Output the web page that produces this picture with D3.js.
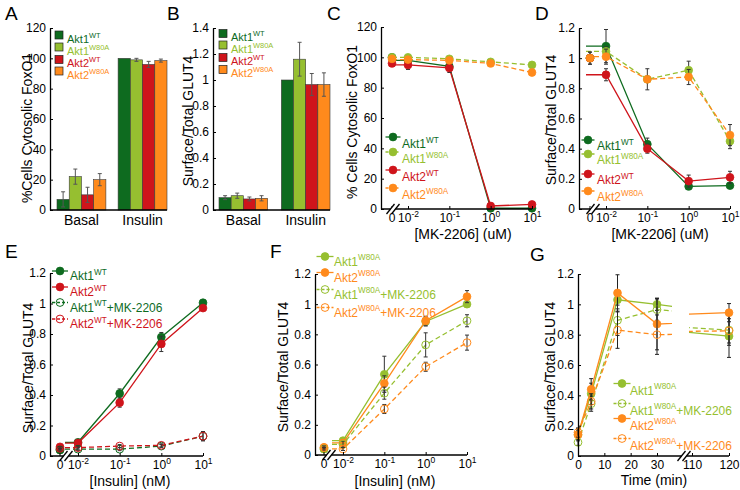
<!DOCTYPE html>
<html><head><meta charset="utf-8">
<script src="https://cdn.jsdelivr.net/npm/d3@7"></script>
<style>body{margin:0;background:#fff}svg{display:block}</style>
</head><body>
<svg id="fig" width="740" height="490"></svg>
<script>
// ================= DATA =================
const barCategories = ["Basal", "Insulin"];
const legendBase = ["Akt1", "Akt1", "Akt2", "Akt2"];
const legendSup = ["WT", "W80A", "WT", "W80A"];

// Panel A: % cells cytosolic FoxO1
const foxoBasal = [7, 22, 10, 20];
const foxoBasalErr = [5, 5, 5, 4];
const foxoInsulin = [100, 99, 96, 98.5];
const foxoInsulinErr = [0, 1, 2, 1];
// Panel B: surface/total GLUT4
const glutBasal = [0.095, 0.11, 0.085, 0.09];
const glutBasalErr = [0.015, 0.02, 0.015, 0.02];
const glutInsulin = [1.0, 1.16, 0.965, 0.965];
const glutInsulinErr = [0, 0.13, 0.085, 0.09];

// Panels C, D: MK-2206 dose (uM); 0 shown left of the axis break
const mkDoses = [0, 0.01, 0.1, 1, 10];
const cAkt1WT = [100, 98, 94, 0.5, 0.5];
const cAkt1WTErr = [1, 1, 1, 0.5, 0.5];
const cAkt1W80A = [100, 100, 99, 97, 95];
const cAkt1W80AErr = [1, 1, 1, 1, 1];
const cAkt2WT = [96, 95, 93, 2, 3];
const cAkt2WTErr = [1, 3, 3, 1, 1];
const cAkt2W80A = [99, 98.5, 98, 96, 90];
const cAkt2W80AErr = [1, 1, 1, 1, 1];

const dAkt1WT = [1.0, 1.08, 0.43, 0.15, 0.155];
const dAkt1WTErr = [0, 0.11, 0.04, 0.01, 0.01];
const dAkt1W80A = [1.0, 1.045, 0.86, 0.92, 0.45];
const dAkt1W80AErr = [0, 0.03, 0.02, 0.06, 0.05];
const dAkt2WT = [1.0, 0.89, 0.40, 0.185, 0.21];
const dAkt2WTErr = [0.04, 0.04, 0.03, 0.04, 0.04];
const dAkt2W80A = [1.0, 1.01, 0.86, 0.875, 0.49];
const dAkt2W80AErr = [0.04, 0.05, 0.07, 0.05, 0.07];

// Panels E, F: insulin dose (nM)
const insDoses = [0, 0.01, 0.1, 1, 10];
const eAkt1WT = [0.04, 0.09, 0.41, 0.78, 1.005];
const eAkt1WTErr = [0.01, 0.01, 0.03, 0.03, 0.01];
const eAkt2WT = [0.06, 0.085, 0.35, 0.735, 0.97];
const eAkt2WTErr = [0.01, 0.01, 0.03, 0.05, 0.01];
const eAkt1WTMK = [0.04, 0.045, 0.045, 0.065, 0.13];
const eAkt1WTMKErr = [0.01, 0.01, 0.01, 0.01, 0.03];
const eAkt2WTMK = [0.05, 0.055, 0.065, 0.07, 0.13];
const eAkt2WTMKErr = [0.01, 0.01, 0.01, 0.01, 0.03];

const fAkt1W80A = [0.04, 0.095, 0.535, 0.885, 1.0];
const fAkt1W80AErr = [0.01, 0.02, 0.12, 0.03, 0.02];
const fAkt2W80A = [0.05, 0.08, 0.475, 0.89, 1.05];
const fAkt2W80AErr = [0.01, 0.02, 0.05, 0.03, 0.04];
const fAkt1W80AMK = [0.04, 0.07, 0.41, 0.73, 0.89];
const fAkt1W80AMKErr = [0.01, 0.02, 0.04, 0.08, 0.04];
const fAkt2W80AMK = [0.05, 0.04, 0.305, 0.585, 0.745];
const fAkt2W80AMKErr = [0.01, 0.01, 0.03, 0.03, 0.05];

// Panel G: time course (min)
const timePts = [0, 5, 15, 30, 120];
const gAkt1W80A = [0.14, 0.41, 1.03, 1.0, 0.79];
const gAkt1W80AErr = [0.03, 0.07, 0.06, 0.04, 0.14];
const gAkt1W80AMK = [0.09, 0.345, 0.895, 0.965, 0.83];
const gAkt1W80AMKErr = [0.02, 0.05, 0.1, 0.07, 0.1];
const gAkt2W80A = [0.14, 0.44, 1.075, 0.87, 0.945];
const gAkt2W80AErr = [0.04, 0.07, 0.12, 0.17, 0.06];
const gAkt2W80AMK = [0.155, 0.36, 0.83, 0.80, 0.825];
const gAkt2W80AMKErr = [0.03, 0.05, 0.12, 0.13, 0.08];

// Tick labels
const pctTicks = [0, 20, 40, 60, 80, 100, 120];
const glut14Ticks = [0, 0.2, 0.4, 0.6, 0.8, 1, 1.2, 1.4];
const glut12Ticks = [0, 0.2, 0.4, 0.6, 0.8, 1, 1.2];
const logTicks = [0.01, 0.1, 1, 10];
const logTickExp = ["-2", "-1", "0", "1"];
const timeTicksA = [0, 10, 20, 30];
const timeTicksB = [110, 120];

// ================= STYLE =================
const FONT = "'Liberation Sans', Arial, Helvetica, sans-serif";
const COL = {a1wt: "#0e6b1f", a1w: "#96bf30", a2wt: "#cf141b", a2w: "#ff8a1c"};
const barColors = [COL.a1wt, COL.a1w, COL.a2wt, COL.a2w];
const DASH = "5,3";
const R = 3.9;
const TPAD = 4;

const svg = d3.select("#fig").attr("font-family", FONT);

function panelLetter(t, x, y) {
  svg.append("text").attr("x", x).attr("y", y).attr("font-size", 19).text(t);
}
function richText(g, x, y, base, sup, rest, color, fs) {
  const t = g.append("text").attr("x", x).attr("y", y).attr("font-size", fs).attr("fill", color);
  t.append("tspan").text(base);
  t.append("tspan").attr("font-size", fs * 0.68).attr("dy", -fs * 0.45).text(sup);
  if (rest) t.append("tspan").attr("font-size", fs).attr("dy", fs * 0.45).text(rest);
}
function yTitle(x, y, txt) {
  svg.append("text").attr("transform", `translate(${x},${y}) rotate(-90)`)
    .attr("text-anchor", "middle").attr("dy", "0.35em").attr("font-size", 14).text(txt);
}
function xTitle(x, y, txt) {
  svg.append("text").attr("x", x).attr("y", y).attr("text-anchor", "middle").attr("font-size", 14).text(txt);
}
function yAxis(g, y, x0, ticks) {
  const ax = g.append("g").attr("transform", `translate(${x0},0)`)
    .call(d3.axisLeft(y).tickValues(ticks).tickFormat(d => String(d))
      .tickSizeInner(-3).tickSizeOuter(0).tickPadding(4));
  ax.attr("font-family", FONT).attr("font-size", 12);
  ax.select(".domain").attr("stroke-width", 1.3);
}
function hLine(g, x1, x2, yy) {
  g.append("line").attr("x1", x1).attr("x2", x2).attr("y1", yy).attr("y2", yy)
    .attr("stroke", "#000").attr("stroke-width", 1.3);
}
function drawBreak(g, bx, yy) {
  g.append("rect").attr("x", bx - 2.5).attr("y", yy - 2).attr("width", 5).attr("height", 4).attr("fill", "#fff");
  [-2.5, 2.5].forEach(o => {
    g.append("line").attr("x1", bx + o - 4).attr("y1", yy + 5).attr("x2", bx + o + 4).attr("y2", yy - 5)
      .attr("stroke", "#000").attr("stroke-width", 1.3);
  });
}
function errorBar(g, x, y, v, e, color) {
  if (!e) return;
  const c = color || "#333";
  g.append("line").attr("x1", x).attr("x2", x).attr("y1", y(v - e)).attr("y2", y(v + e))
    .attr("stroke", c).attr("stroke-width", 1);
  [v - e, v + e].forEach(w => g.append("line").attr("x1", x - 2).attr("x2", x + 2)
    .attr("y1", y(w)).attr("y2", y(w)).attr("stroke", c).attr("stroke-width", 1));
}
function marker(g, x, yy, color, filled) {
  g.append("circle").attr("cx", x).attr("cy", yy).attr("r", R)
    .attr("fill", filled ? color : "none").attr("stroke", color).attr("stroke-width", filled ? 0.8 : 1);
}
function lineLegend(g, mx, my, L, tx, off, fs, s, base, sup, rest) {
  g.append("line").attr("x1", mx - L).attr("x2", mx + L).attr("y1", my).attr("y2", my)
    .attr("stroke", s.color).attr("stroke-width", 1.3).attr("stroke-dasharray", s.dash ? "3,2" : null);
  marker(g, mx, my, s.color, s.filled);
  richText(g, tx, my + off, base, sup, rest, s.color, fs);
}

// ================= BAR PANELS =================
function barPanel(cfg) {
  const g = svg.append("g");
  const y = d3.scaleLinear().domain([0, cfg.ymax]).range([cfg.y0, cfg.ytop]);
  const xb = d3.scaleBand().domain(barCategories).range(cfg.band).paddingInner(cfg.pad);
  const xs = d3.scaleBand().domain(d3.range(4)).range([0, xb.bandwidth()]);
  const groups = [{cat: "Basal", v: cfg.basal, e: cfg.basalErr}, {cat: "Insulin", v: cfg.ins, e: cfg.insErr}];
  groups.forEach(gr => gr.v.forEach((v, i) => {
    g.append("rect").attr("x", xb(gr.cat) + xs(i)).attr("y", y(v))
      .attr("width", xs.bandwidth()).attr("height", y(0) - y(v))
      .attr("fill", barColors[i]).attr("stroke", "#3a3a3a").attr("stroke-width", 0.6);
  }));
  groups.forEach(gr => gr.v.forEach((v, i) => {
    errorBar(g, xb(gr.cat) + xs(i) + xs.bandwidth() / 2, y, v, gr.e[i], "#555");
  }));
  const ax = g.append("g").attr("transform", `translate(0,${cfg.y0})`)
    .call(d3.axisBottom(xb).tickSize(0).tickPadding(5));
  ax.select(".domain").remove();
  ax.attr("font-family", FONT).attr("font-size", 14);
  hLine(g, cfg.left, cfg.right, cfg.y0);
  yAxis(g, y, cfg.left, cfg.ticks);
  legendBase.forEach((b, i) => {
    const ly = cfg.legY[i];
    g.append("rect").attr("x", cfg.legX - 4).attr("y", ly - 4).attr("width", 8).attr("height", 8)
      .attr("fill", barColors[i]).attr("stroke", "#222").attr("stroke-width", 0.7);
    richText(g, cfg.legX + 8, ly + 7.5, b, legendSup[i], "", barColors[i], 11);
  });
}

barPanel({left: 50, right: 167, y0: 210, ytop: 28, ymax: 120, band: [57, 167], pad: 0.2,
  basal: foxoBasal, basalErr: foxoBasalErr, ins: foxoInsulin, insErr: foxoInsulinErr,
  ticks: pctTicks, legX: 59, legY: [35, 47, 59.5, 71]});
barPanel({left: 213, right: 330, y0: 210, ytop: 28, ymax: 1.4, band: [219, 330], pad: 0.22,
  basal: glutBasal, basalErr: glutBasalErr, ins: glutInsulin, insErr: glutInsulinErr,
  ticks: glut14Ticks, legX: 223, legY: [33.5, 45, 57.5, 69.5]});

// ================= LOG-DOSE PANELS =================
function logPanel(cfg) {
  const g = svg.append("g");
  const y = d3.scaleLinear().domain([0, cfg.ymax]).range([cfg.y0, cfg.ytop]);
  const xl = d3.scaleLog().domain([0.01, 10]).range([cfg.xMin, cfg.right]);
  const xp = d => d === 0 ? cfg.zeroX : xl(d);
  cfg.series.forEach(s => {
    const pts = cfg.doses.map((d, i) => ({x: xp(d), v: s.vals[i], e: s.err[i]}));
    const ld = [{x: cfg.stubX, v: s.vals[1]}].concat(pts.slice(1));
    g.append("path").datum(ld).attr("fill", "none").attr("stroke", s.color).attr("stroke-width", 1.3)
      .attr("stroke-dasharray", s.dash ? DASH : null)
      .attr("d", d3.line().x(p => p.x).y(p => y(p.v)));
    pts.forEach(p => errorBar(g, p.x, y, p.v, p.e));
    pts.forEach(p => marker(g, p.x, y(p.v), s.color, s.filled));
  });
  hLine(g, cfg.left, cfg.right, cfg.y0);
  const ax = g.append("g").attr("transform", `translate(0,${cfg.y0})`)
    .call(d3.axisBottom(xl).tickValues(logTicks).tickFormat(() => "10")
      .tickSizeInner(-3).tickSizeOuter(0).tickPadding(TPAD));
  ax.select(".domain").remove();
  ax.attr("font-family", FONT).attr("font-size", 12);
  ax.selectAll(".tick text").each(function (d, i) {
    d3.select(this).append("tspan").attr("font-size", 8.5).attr("dy", -5).text(logTickExp[i]);
  });
  g.append("line").attr("x1", cfg.zeroX).attr("x2", cfg.zeroX).attr("y1", cfg.y0).attr("y2", cfg.y0 - 3)
    .attr("stroke", "#000");
  g.append("text").attr("x", cfg.zeroX).attr("y", cfg.y0 + TPAD).attr("dy", "0.71em")
    .attr("text-anchor", "middle").attr("font-size", 12).text("0");
  drawBreak(g, cfg.breakX, cfg.y0);
  yAxis(g, y, cfg.left, cfg.ticks);
  cfg.series.forEach((s, i) => {
    lineLegend(g, cfg.legX, cfg.legY[i], cfg.legL, cfg.legTX, cfg.legOff, cfg.legFS, s,
      cfg.legBase[i], cfg.legSup[i], cfg.legRest[i]);
  });
}

logPanel({left: 381, right: 532, y0: 209, ytop: 27, ymax: 120, xMin: 408, zeroX: 392, breakX: 393, stubX: 392,
  doses: mkDoses, ticks: pctTicks,
  series: [
    {vals: cAkt1WT, err: cAkt1WTErr, color: COL.a1wt, dash: false, filled: true},
    {vals: cAkt1W80A, err: cAkt1W80AErr, color: COL.a1w, dash: true, filled: true},
    {vals: cAkt2WT, err: cAkt2WTErr, color: COL.a2wt, dash: false, filled: true},
    {vals: cAkt2W80A, err: cAkt2W80AErr, color: COL.a2w, dash: true, filled: true}],
  legX: 393, legY: [137, 152, 170, 188], legL: 7.5, legTX: 402, legOff: 11, legFS: 12,
  legBase: legendBase, legSup: legendSup, legRest: ["", "", "", ""]});

logPanel({left: 579, right: 730, y0: 209, ytop: 28, ymax: 1.2, xMin: 606, zeroX: 590, breakX: 593, stubX: 586,
  doses: mkDoses, ticks: glut12Ticks,
  series: [
    {vals: dAkt1WT, err: dAkt1WTErr, color: COL.a1wt, dash: false, filled: true},
    {vals: dAkt1W80A, err: dAkt1W80AErr, color: COL.a1w, dash: true, filled: true},
    {vals: dAkt2WT, err: dAkt2WTErr, color: COL.a2wt, dash: false, filled: true},
    {vals: dAkt2W80A, err: dAkt2W80AErr, color: COL.a2w, dash: true, filled: true}],
  legX: 588, legY: [140, 154, 174, 191], legL: 6.5, legTX: 597, legOff: 10, legFS: 12,
  legBase: legendBase, legSup: legendSup, legRest: ["", "", "", ""]});

logPanel({left: 50, right: 203, y0: 456, ytop: 273, ymax: 1.2, xMin: 78, zeroX: 60, breakX: 66, stubX: 65,
  doses: insDoses, ticks: glut12Ticks,
  series: [
    {vals: eAkt1WT, err: eAkt1WTErr, color: COL.a1wt, dash: false, filled: true},
    {vals: eAkt2WT, err: eAkt2WTErr, color: COL.a2wt, dash: false, filled: true},
    {vals: eAkt1WTMK, err: eAkt1WTMKErr, color: COL.a1wt, dash: true, filled: false},
    {vals: eAkt2WTMK, err: eAkt2WTMKErr, color: COL.a2wt, dash: true, filled: false}],
  legX: 60, legY: [271, 287, 302.5, 319], legL: 8, legTX: 70, legOff: 9, legFS: 12,
  legBase: ["Akt1", "Akt2", "Akt1", "Akt2"], legSup: ["WT", "WT", "WT", "WT"],
  legRest: ["", "", "+MK-2206", "+MK-2206"]});

logPanel({left: 315, right: 467, y0: 455, ytop: 274, ymax: 1.2, xMin: 343, zeroX: 324, breakX: 329, stubX: 332,
  doses: insDoses, ticks: glut12Ticks,
  series: [
    {vals: fAkt1W80A, err: fAkt1W80AErr, color: COL.a1w, dash: false, filled: true},
    {vals: fAkt2W80A, err: fAkt2W80AErr, color: COL.a2w, dash: false, filled: true},
    {vals: fAkt1W80AMK, err: fAkt1W80AMKErr, color: COL.a1w, dash: true, filled: false},
    {vals: fAkt2W80AMK, err: fAkt2W80AMKErr, color: COL.a2w, dash: true, filled: false}],
  legX: 325, legY: [256.5, 272.5, 289.5, 307.5], legL: 8.5, legTX: 334, legOff: 9, legFS: 12,
  legBase: ["Akt1", "Akt2", "Akt1", "Akt2"], legSup: ["W80A", "W80A", "W80A", "W80A"],
  legRest: ["", "", "+MK-2206", "+MK-2206"]});

// ================= TIME PANEL G (broken axis) =================
(function () {
  const cfg = {left: 578, right: 729, y0: 456, ytop: 274, ymax: 1.2, breakX: 684};
  const g = svg.append("g");
  const y = d3.scaleLinear().domain([0, cfg.ymax]).range([cfg.y0, cfg.ytop]);
  const x1 = d3.scaleLinear().domain([0, 30]).range([578, 657]);
  const x2 = d3.scaleLinear().domain([110, 120]).range([692, 729]);
  const xp = t => t < 60 ? x1(t) : x2(t);
  const defs = svg.append("defs");
  defs.append("clipPath").attr("id", "segA").append("rect").attr("x", 560).attr("y", 240).attr("width", 672 - 560).attr("height", 250);
  defs.append("clipPath").attr("id", "segB").append("rect").attr("x", 689).attr("y", 240).attr("width", 60).attr("height", 250);
  const series = [
    {vals: gAkt1W80A, err: gAkt1W80AErr, color: COL.a1w, dash: false, filled: true},
    {vals: gAkt1W80AMK, err: gAkt1W80AMKErr, color: COL.a1w, dash: true, filled: false},
    {vals: gAkt2W80A, err: gAkt2W80AErr, color: COL.a2w, dash: false, filled: true},
    {vals: gAkt2W80AMK, err: gAkt2W80AMKErr, color: COL.a2w, dash: true, filled: false}];
  series.forEach(s => {
    const pts = timePts.map((t, i) => ({t, v: s.vals[i], e: s.err[i]}));
    [[x1, "segA"], [x2, "segB"]].forEach(([sc, clip]) => {
      g.append("path").datum(pts).attr("clip-path", `url(#${clip})`).attr("fill", "none")
        .attr("stroke", s.color).attr("stroke-width", 1.3).attr("stroke-dasharray", s.dash ? DASH : null)
        .attr("d", d3.line().x(p => sc(p.t)).y(p => y(p.v)));
    });
    pts.forEach(p => errorBar(g, xp(p.t), y, p.v, p.e, "#222"));
    pts.forEach(p => marker(g, xp(p.t), y(p.v), s.color, s.filled));
  });
  hLine(g, cfg.left, cfg.right, cfg.y0);
  [[x1, timeTicksA], [x2, timeTicksB]].forEach(([sc, tv]) => {
    const ax = g.append("g").attr("transform", `translate(0,${cfg.y0})`)
      .call(d3.axisBottom(sc).tickValues(tv).tickFormat(d => String(d))
        .tickSizeInner(-3).tickSizeOuter(0).tickPadding(TPAD));
    ax.select(".domain").remove();
    ax.attr("font-family", FONT).attr("font-size", 12);
  });
  drawBreak(g, cfg.breakX, cfg.y0);
  yAxis(g, y, cfg.left, glut12Ticks);
  const legY = [383.5, 403.5, 418.5, 438.5];
  const rest = ["", "+MK-2206", "", "+MK-2206"];
  const base = ["Akt1", "Akt1", "Akt2", "Akt2"];
  series.forEach((s, i) => lineLegend(g, 622, legY[i], 8.5, 630, 11, 12, s, base[i], "W80A", rest[i]));
})();

// ================= TITLES & LETTERS =================
yTitle(27, 128, "%Cells Cytosolic FoxO1");
yTitle(188, 121, "Surface/Total GLUT4");
yTitle(352, 122, "% Cells Cytosolic FoxO1");
yTitle(551, 120, "Surface/Total GLUT4");
yTitle(28, 368, "Surface/Total GLUT4");
yTitle(283, 367, "Surface/Total GLUT4");
yTitle(550, 367, "Surface/Total GLUT4");
xTitle(463, 239, "[MK-2206] (uM)");
xTitle(660, 239, "[MK-2206] (uM)");
xTitle(130, 485.5, "[Insulin] (nM)");
xTitle(395, 485.5, "[Insulin] (nM)");
xTitle(654, 485, "Time (min)");
panelLetter("A", 5, 20);
panelLetter("B", 167, 20);
panelLetter("C", 327, 20);
panelLetter("D", 535, 20);
panelLetter("E", 5, 258);
panelLetter("F", 270, 258);
panelLetter("G", 530, 261);
</script>
</body></html>
